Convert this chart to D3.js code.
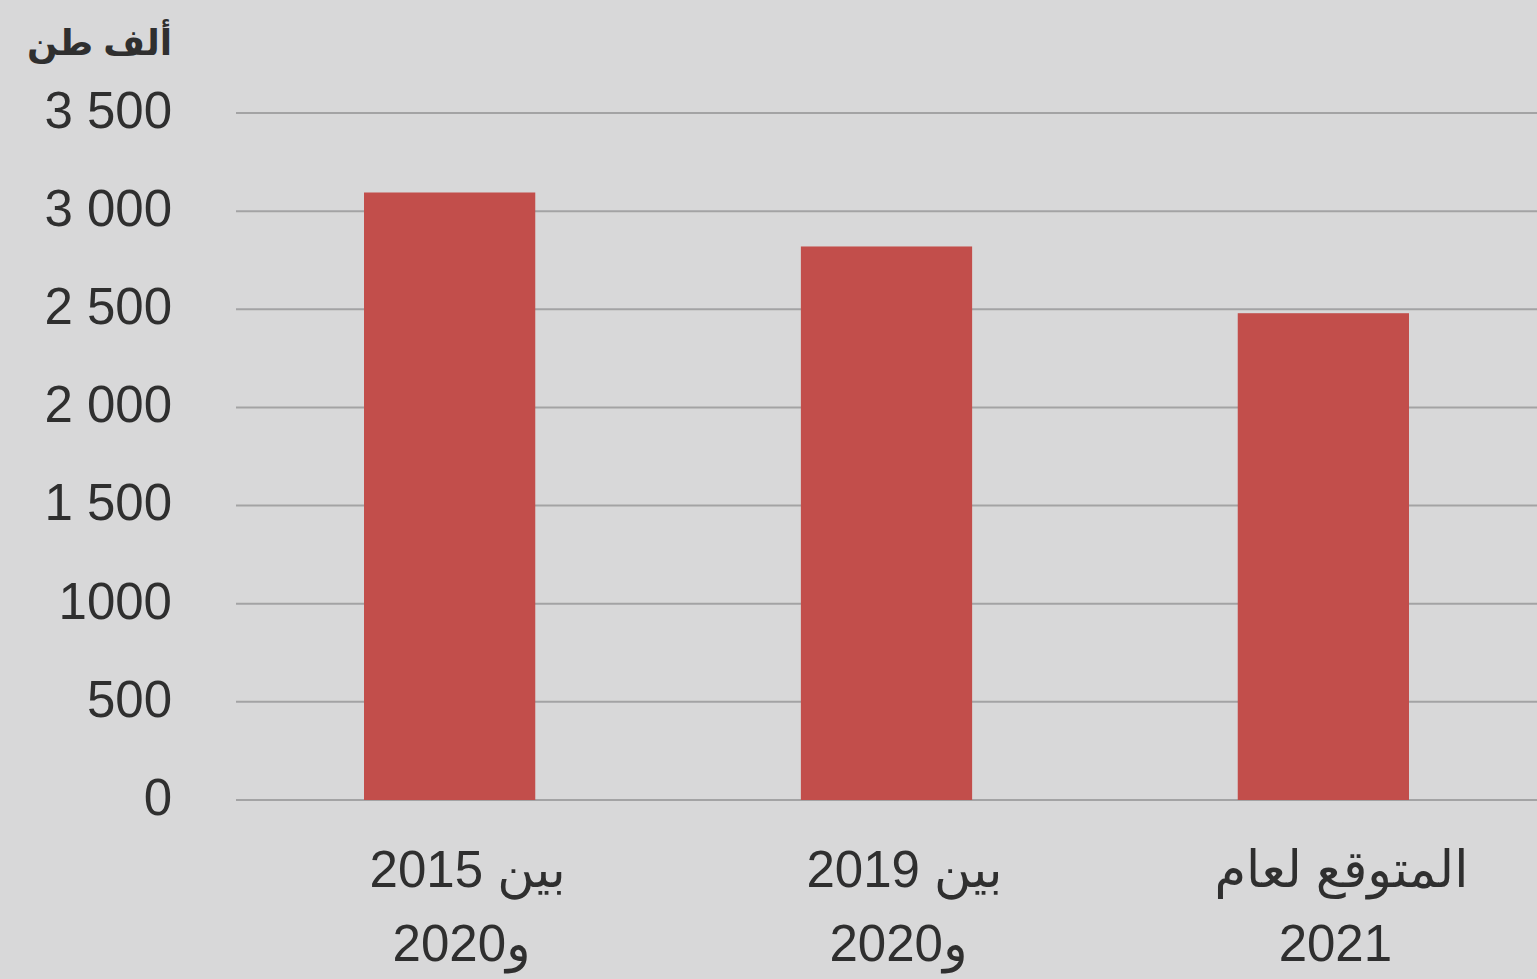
<!DOCTYPE html>
<html>
<head>
<meta charset="utf-8">
<script src="https://cdn.jsdelivr.net/npm/d3@7"></script>
<style>
  html, body { margin: 0; padding: 0; background: #d8d8d9; }
  svg { display: block; }
  text { font-family: "Liberation Sans", Arial, "DejaVu Sans", sans-serif; fill: #2f2f2f; }
</style>
</head>
<body>
<svg id="chart"></svg>
<script>
// data
const categories = [["بين 2015", "و2020"], ["بين 2019", "و2020"], ["المتوقع لعام", "2021"]];
const values = [3095, 2820, 2480];
const tickValues = [0, 500, 1000, 1500, 2000, 2500, 3000, 3500];
const tickLabels = ["0", "500", "1000", "1 500", "2 000", "2 500", "3 000", "3 500"];
const unitLabel = "ألف طن";

const width = 1537;
const height = 979;

const svg = d3.select("#chart")
  .attr("width", width)
  .attr("height", height);

svg.append("rect")
  .attr("width", width)
  .attr("height", height)
  .attr("fill", "#d8d8d9");

// scales
const x = d3.scaleBand()
  .domain(d3.range(categories.length))
  .range([236, 1537])
  .paddingInner(0.608)
  .paddingOuter(0.293);

const y = d3.scaleLinear()
  .domain([0, 3500])
  .range([800, 113]);

// gridlines
svg.append("g")
  .selectAll("line")
  .data(tickValues)
  .enter()
  .append("line")
  .attr("x1", 236)
  .attr("x2", width)
  .attr("y1", d => y(d))
  .attr("y2", d => y(d))
  .attr("stroke", "#a3a3a4")
  .attr("stroke-width", 2);

// y axis labels
const yAxis = d3.axisLeft(y)
  .tickValues(tickValues)
  .tickFormat((d, i) => tickLabels[i])
  .tickSize(0)
  .tickPadding(0);

svg.append("g")
  .attr("transform", "translate(172,-2)")
  .call(yAxis)
  .call(g => g.select(".domain").remove())
  .selectAll("text")
  .attr("font-size", 51)
  .attr("font-family", null)
  .attr("fill", "#2f2f2f");

svg.append("text")
  .attr("x", 172)
  .attr("y", 55)
  .attr("text-anchor", "end")
  .attr("font-size", 36)
  .attr("font-weight", "bold")
  .text(unitLabel);

// bars
svg.append("g")
  .selectAll("rect")
  .data(values)
  .enter()
  .append("rect")
  .attr("x", (d, i) => x(i))
  .attr("y", d => y(d))
  .attr("width", x.bandwidth())
  .attr("height", d => y(0) - y(d))
  .attr("fill", "#c24e4b");

// x labels
const xl = svg.append("g")
  .selectAll("text")
  .data(categories)
  .enter()
  .append("text")
  .attr("text-anchor", "middle")
  .attr("font-size", 51);

xl.append("tspan")
  .attr("x", (d, i) => x(i) + x.bandwidth() / 2 + 18)
  .attr("y", 887)
  .text(d => d[0]);

xl.append("tspan")
  .attr("x", (d, i) => x(i) + x.bandwidth() / 2 + 12)
  .attr("y", 961)
  .text(d => d[1]);
</script>
</body>
</html>
